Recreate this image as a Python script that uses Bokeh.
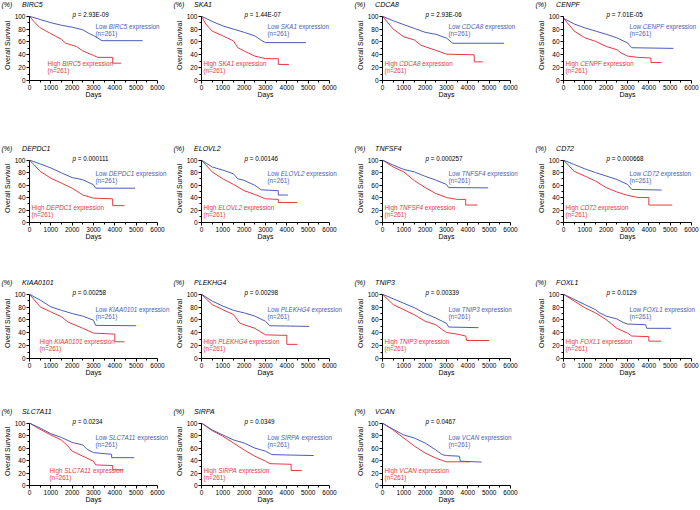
from bokeh.plotting import figure
from bokeh.layouts import column, row
from bokeh.models import Range1d, Label, FixedTicker
from bokeh.embed import file_html
from bokeh.resources import INLINE

# ---------------- data ----------------
GENES = ["BIRC5", "SKA1", "CDCA8", "CENPF",
         "DEPDC1", "ELOVL2", "TNFSF4", "CD72",
         "KIAA0101", "PLEKHG4", "TNIP3", "FOXL1",
         "SLC7A11", "SIRPA", "VCAN"]
P_VALUES = ["2.93E-09", "1.44E-07", "2.93E-06", "7.01E-05",
            "0.000111", "0.00146", "0.000257", "0.000668",
            "0.00258", "0.00298", "0.00339", "0.0129",
            "0.0234", "0.0349", "0.0467"]
N_LOW = [261, 261, 261, 261, 261, 261, 261, 261, 261, 261, 261, 261, 261, 261, 261]
N_HIGH = [261, 261, 261, 261, 261, 261, 261, 261, 261, 261, 261, 261, 261, 261, 261]

DAY_TICKS = [0, 1000, 2000, 3000, 4000, 5000, 6000]
DAY_MINOR = [500, 1500, 2500, 3500, 4500, 5500]
SURV_TICKS = [0, 20, 40, 60, 80, 100]
SURV_MINOR = [10, 30, 50, 70, 90]

BIRC5_LOW_DAYS = [0, 500, 1000, 1500, 2000, 2500, 2800, 3000, 3200, 3400, 5300]
BIRC5_LOW_SURV = [100, 95, 90, 86, 83, 79, 73, 70, 66, 62, 62]
BIRC5_HIGH_DAYS = [0, 200, 500, 1000, 1500, 1700, 2200, 2500, 3000, 3200, 3900, 3900, 4300]
BIRC5_HIGH_SURV = [100, 92, 82, 73, 64, 58, 53, 46, 39, 36, 36, 27, 27]

SKA1_LOW_DAYS = [0, 500, 1000, 1500, 2000, 2500, 2800, 3000, 4900]
SKA1_LOW_SURV = [100, 92, 85, 80, 75, 69.5, 62.6, 59, 59]
SKA1_HIGH_DAYS = [0, 200, 500, 1000, 1500, 1700, 2000, 2500, 3000, 3600, 3600, 4100]
SKA1_HIGH_SURV = [100, 88, 77, 69.5, 61.6, 51, 46, 38, 34, 34, 25, 25]

CDCA8_LOW_DAYS = [0, 500, 1000, 1500, 2000, 2500, 3000, 3300, 5700]
CDCA8_LOW_SURV = [100, 93, 87, 81, 75, 72, 66, 58, 58]
CDCA8_HIGH_DAYS = [0, 500, 1000, 1500, 1800, 2000, 2500, 3000, 4300, 4300, 4700]
CDCA8_HIGH_SURV = [100, 80, 68, 63, 55, 52.6, 47, 41, 40, 29, 29]

CENPF_LOW_DAYS = [0, 500, 1000, 1500, 2000, 2500, 3000, 3200, 5150]
CENPF_LOW_SURV = [97, 88, 82, 77, 72, 66.5, 58.5, 51, 50]
CENPF_HIGH_DAYS = [0, 500, 1000, 1500, 2000, 2500, 2700, 3000, 3500, 4100, 4100, 4600]
CENPF_HIGH_SURV = [97, 77, 66.5, 61, 53, 48, 43, 38, 36, 35, 28, 28]

DEPDC1_LOW_DAYS = [0, 500, 1000, 1500, 2000, 2500, 3000, 3100, 4950]
DEPDC1_LOW_SURV = [100, 94, 87.5, 79.5, 72, 68.6, 60.5, 55, 55]
DEPDC1_HIGH_DAYS = [0, 500, 1000, 1500, 2000, 2500, 3000, 3900, 3900, 4450]
DEPDC1_HIGH_SURV = [100, 82, 71, 63, 55, 44, 39, 38, 27, 27]

ELOVL2_LOW_DAYS = [0, 500, 1000, 1500, 1700, 2000, 2500, 2800, 3600, 3600, 4050]
ELOVL2_LOW_SURV = [100, 89, 84, 78, 70, 67.6, 59.5, 52.4, 51, 44, 44]
ELOVL2_HIGH_DAYS = [0, 500, 1000, 1500, 2000, 2500, 3000, 3600, 3600, 4500]
ELOVL2_HIGH_SURV = [100, 81, 70, 61, 51, 45, 38, 37, 32, 32]

TNFSF4_LOW_DAYS = [0, 500, 1000, 1500, 2000, 2500, 3000, 3100, 4950]
TNFSF4_LOW_SURV = [100, 92, 85, 81, 74, 68, 61, 56, 55.5]
TNFSF4_HIGH_DAYS = [0, 500, 1000, 1500, 2000, 2500, 3000, 3500, 3900, 3900, 4450]
TNFSF4_HIGH_SURV = [100, 89, 81, 67, 56, 46.4, 40, 37, 37, 28, 28]

CD72_LOW_DAYS = [0, 500, 1000, 1500, 2000, 2500, 3000, 3200, 4600]
CD72_LOW_SURV = [100, 93, 86, 80, 74.5, 69, 61, 53, 52]
CD72_HIGH_DAYS = [0, 500, 1000, 1500, 2000, 2500, 3000, 3500, 4000, 4000, 5100]
CD72_HIGH_SURV = [100, 82, 74.5, 66.5, 56, 49, 43.6, 40, 40, 28, 28]

KIAA0101_LOW_DAYS = [0, 500, 1000, 1500, 2000, 2500, 3000, 3100, 5000]
KIAA0101_LOW_SURV = [100, 91, 80.5, 75, 70, 66, 59.5, 51.6, 51]
KIAA0101_HIGH_DAYS = [0, 500, 1000, 1500, 1800, 2000, 2500, 3000, 4000, 4000, 4450]
KIAA0101_HIGH_SURV = [100, 80.5, 72.6, 65, 57, 54, 47, 39.5, 38, 26, 26]

PLEKHG4_LOW_DAYS = [0, 500, 1000, 1500, 2000, 2500, 3000, 3200, 5050]
PLEKHG4_LOW_SURV = [100, 89.5, 81.6, 75, 71, 66, 58, 51, 50]
PLEKHG4_HIGH_DAYS = [0, 500, 1000, 1500, 1800, 2000, 2500, 3000, 4000, 4000, 4500]
PLEKHG4_HIGH_SURV = [100, 84, 76, 68.4, 55, 52.6, 47, 36.8, 36, 22, 22]

TNIP3_LOW_DAYS = [0, 500, 1000, 1500, 2000, 2500, 2800, 3000, 3100, 4500]
TNIP3_LOW_SURV = [100, 93, 86, 79, 70, 63, 58, 55, 49, 48]
TNIP3_HIGH_DAYS = [0, 500, 1000, 1500, 2000, 2500, 2800, 3000, 3500, 3900, 3950, 5000]
TNIP3_HIGH_SURV = [100, 84, 76, 68, 58, 52.6, 45, 40.5, 38, 35, 28, 28]

FOXL1_LOW_DAYS = [0, 500, 1000, 1500, 1700, 2000, 2500, 2800, 3000, 3850, 3900, 5050]
FOXL1_LOW_SURV = [100, 92, 84, 76, 71, 66, 61.6, 56, 53.7, 52.6, 47, 47]
FOXL1_HIGH_DAYS = [0, 500, 1000, 1500, 2000, 2500, 3000, 3200, 4000, 4000, 4580]
FOXL1_HIGH_SURV = [100, 89.5, 79, 71, 60.5, 47, 39.5, 35, 34, 27, 27]

SLC7A11_LOW_DAYS = [0, 500, 1000, 1500, 2000, 2500, 2700, 3000, 3850, 3850, 4900]
SLC7A11_LOW_SURV = [100, 92, 83, 77, 69, 65, 58, 52.7, 50, 44.6, 44.6]
SLC7A11_HIGH_DAYS = [0, 500, 1000, 1500, 1800, 2000, 2500, 3000, 3100, 3900, 3900, 4400]
SLC7A11_HIGH_SURV = [100, 90, 81, 72.6, 63.4, 55, 47, 39, 33, 32, 25, 25]

SIRPA_LOW_DAYS = [0, 500, 1000, 1500, 2000, 2500, 3000, 3300, 5260]
SIRPA_LOW_SURV = [100, 89, 81, 73, 68, 60, 55, 49.5, 48]
SIRPA_HIGH_DAYS = [0, 500, 1000, 1500, 2000, 2500, 3000, 3200, 4200, 4200, 4700]
SIRPA_HIGH_SURV = [100, 88, 79, 68, 57, 47, 39, 35, 34, 24, 24]

VCAN_LOW_DAYS = [0, 500, 1000, 1500, 2000, 2500, 2800, 3000, 3600, 3650, 4650]
VCAN_LOW_SURV = [100, 90, 81, 76, 68, 57, 49.5, 48, 47, 39, 37.5]
VCAN_HIGH_DAYS = [0, 500, 1000, 1500, 2000, 2500, 2800, 3000, 4100]
VCAN_HIGH_SURV = [100, 89, 76, 63, 52, 44, 40, 38, 38]

CURVES = {
    "BIRC5": (BIRC5_LOW_DAYS, BIRC5_LOW_SURV, BIRC5_HIGH_DAYS, BIRC5_HIGH_SURV),
    "SKA1": (SKA1_LOW_DAYS, SKA1_LOW_SURV, SKA1_HIGH_DAYS, SKA1_HIGH_SURV),
    "CDCA8": (CDCA8_LOW_DAYS, CDCA8_LOW_SURV, CDCA8_HIGH_DAYS, CDCA8_HIGH_SURV),
    "CENPF": (CENPF_LOW_DAYS, CENPF_LOW_SURV, CENPF_HIGH_DAYS, CENPF_HIGH_SURV),
    "DEPDC1": (DEPDC1_LOW_DAYS, DEPDC1_LOW_SURV, DEPDC1_HIGH_DAYS, DEPDC1_HIGH_SURV),
    "ELOVL2": (ELOVL2_LOW_DAYS, ELOVL2_LOW_SURV, ELOVL2_HIGH_DAYS, ELOVL2_HIGH_SURV),
    "TNFSF4": (TNFSF4_LOW_DAYS, TNFSF4_LOW_SURV, TNFSF4_HIGH_DAYS, TNFSF4_HIGH_SURV),
    "CD72": (CD72_LOW_DAYS, CD72_LOW_SURV, CD72_HIGH_DAYS, CD72_HIGH_SURV),
    "KIAA0101": (KIAA0101_LOW_DAYS, KIAA0101_LOW_SURV, KIAA0101_HIGH_DAYS, KIAA0101_HIGH_SURV),
    "PLEKHG4": (PLEKHG4_LOW_DAYS, PLEKHG4_LOW_SURV, PLEKHG4_HIGH_DAYS, PLEKHG4_HIGH_SURV),
    "TNIP3": (TNIP3_LOW_DAYS, TNIP3_LOW_SURV, TNIP3_HIGH_DAYS, TNIP3_HIGH_SURV),
    "FOXL1": (FOXL1_LOW_DAYS, FOXL1_LOW_SURV, FOXL1_HIGH_DAYS, FOXL1_HIGH_SURV),
    "SLC7A11": (SLC7A11_LOW_DAYS, SLC7A11_LOW_SURV, SLC7A11_HIGH_DAYS, SLC7A11_HIGH_SURV),
    "SIRPA": (SIRPA_LOW_DAYS, SIRPA_LOW_SURV, SIRPA_HIGH_DAYS, SIRPA_HIGH_SURV),
    "VCAN": (VCAN_LOW_DAYS, VCAN_LOW_SURV, VCAN_HIGH_DAYS, VCAN_HIGH_SURV),
}

# ---------------- style / layout ----------------
FONT = "Liberation Sans"
BLUE = "#4b5cb5"
RED = "#e63a3f"
TXT = 6.3          # annotation font px
X_AXIS_MAX = 6000
Y_AXIS_MAX = 100
Y_END = 109        # room for the p-value line inside the frame
AXIS_PX = 128      # pixel length of the 0-6000 axis

COL_W = [172, 181, 181, 166]
FRAME_W = [142, 146, 146, 133]   # frame is wider than the axis: room for labels
LEFT = 29
ROW_H = [144, 134, 129, 103]
TOP = 10
PX_PER_PCT = [0.64, 0.62, 0.64, 0.62]
LOW_DY = [10, 13, 15, 14]
HIGH_DY = 47
HIGH_DX = {"BIRC5": 18, "KIAA0101": 10, "SLC7A11": 20}

# Arial / Liberation Sans advance widths (1/1000 em)
ADV = {' ': 278, '(': 333, ')': 333, '=': 584, '.': 278, '-': 333, '%': 889,
       'a': 556, 'b': 556, 'c': 500, 'd': 556, 'e': 556, 'f': 278, 'g': 556, 'h': 556,
       'i': 222, 'j': 222, 'k': 500, 'l': 222, 'm': 833, 'n': 556, 'o': 556, 'p': 556,
       'q': 556, 'r': 333, 's': 500, 't': 278, 'u': 556, 'v': 500, 'w': 722, 'x': 500,
       'y': 500, 'z': 500,
       'A': 667, 'B': 667, 'C': 722, 'D': 722, 'E': 667, 'F': 611, 'G': 778, 'H': 722,
       'I': 278, 'J': 500, 'K': 667, 'L': 556, 'M': 833, 'N': 722, 'O': 778, 'P': 667,
       'Q': 778, 'R': 722, 'S': 667, 'T': 611, 'U': 722, 'V': 667, 'W': 944, 'X': 667,
       'Y': 667, 'Z': 611}


def text_w(s, size):
    return sum(ADV.get(c, 556) for c in s) * size / 1000.0


def lbl(t, dx, dy, color, size, italic, x=0, y=Y_AXIS_MAX, align="left"):
    # anchored at a data point (default: 0 days, 100 %), offset in pixels
    return Label(x=x, y=y, x_offset=dx, y_offset=-dy,
                 text=t, text_font=FONT, text_font_size=f"{size}px",
                 text_font_style="italic" if italic else "normal",
                 text_color=color, text_baseline="middle", text_align=align)


def rich(p, parts, dx, dy, color, size):
    x = dx
    for i, (t, it) in enumerate(parts):
        if i > 0:
            x += text_w(" ", size)
        p.add_layout(lbl(t, x, dy, color, size, it))
        x += text_w(t, size)


def make_panel(idx):
    r, c = divmod(idx, 4)
    gene = GENES[idx]
    lo_d, lo_s, hi_d, hi_s = CURVES[gene]
    w = COL_W[c]
    h = ROW_H[r]
    fw = FRAME_W[c]
    fh = round(PX_PER_PCT[r] * Y_END)
    x_end = X_AXIS_MAX * fw / AXIS_PX
    p = figure(width=w, height=h, x_range=Range1d(0, x_end), y_range=Range1d(0, Y_END),
               output_backend="svg", toolbar_location=None,
               min_border_left=LEFT, min_border_right=w - LEFT - fw,
               min_border_top=TOP, min_border_bottom=h - TOP - fh)
    p.outline_line_color = None
    p.grid.visible = False
    p.background_fill_color = "white"
    p.border_fill_color = "white"

    p.xaxis.ticker = FixedTicker(ticks=DAY_TICKS, minor_ticks=DAY_MINOR)
    p.yaxis.ticker = FixedTicker(ticks=SURV_TICKS, minor_ticks=SURV_MINOR)
    p.xaxis.bounds = (0, X_AXIS_MAX)
    p.yaxis.bounds = (0, Y_AXIS_MAX)
    for ax in (p.xaxis[0], p.yaxis[0]):
        ax.axis_line_color = "black"
        ax.major_tick_line_color = "black"
        ax.minor_tick_line_color = "black"
        ax.major_tick_out = 3
        ax.major_tick_in = 0
        ax.minor_tick_out = 2
        ax.minor_tick_in = 0
        ax.major_label_standoff = 1
        ax.axis_label_standoff = 1
        ax.major_label_text_font = FONT
        ax.major_label_text_font_size = "6.5px"
        ax.major_label_text_color = "black"
        ax.axis_label_text_font = FONT
        ax.axis_label_text_font_size = "7px"
        ax.axis_label_text_font_style = "normal"
        ax.axis_label_text_color = "black"
    p.yaxis.axis_label = "Overall Survival"
    # "Days" centred under the 0-6000 axis, drawn in the bottom side panel
    p.add_layout(lbl("Days", 0, 14, "black", 7, False,
                     x=X_AXIS_MAX / 2, y=0, align="center"), "below")

    p.line(hi_d, hi_s, line_color=RED, line_width=1)
    p.line(lo_d, lo_s, line_color=BLUE, line_width=1)

    # title "(%)  GENE" lives in the top side panel (not clipped to the frame)
    title = lbl("(%)\u00a0\u00a0\u00a0\u00a0\u00a0" + gene, -LEFT + 1, -11.5, "black", 7, True)
    p.add_layout(title, "above")
    # p value
    rich(p, [("p", True), ("=", False), (P_VALUES[idx], False)], 43, -1.7, "black", TXT)
    # low / high labels
    ldy = LOW_DY[r]
    rich(p, [("Low", False), (gene, True), ("expression", False)], 66, ldy, BLUE, TXT)
    rich(p, [(f"(n={N_LOW[idx]})", False)], 66, ldy + 7.5, BLUE, TXT)
    hdx = HIGH_DX.get(gene, 2)
    rich(p, [("High", False), (gene, True), ("expression", False)], hdx, HIGH_DY, RED, TXT)
    rich(p, [(f"(n={N_HIGH[idx]})", False)], hdx, HIGH_DY + 7.5, RED, TXT)
    return p


panels = [make_panel(i) for i in range(len(GENES))]
rows = [row(*panels[i:i + 4]) for i in range(0, len(panels), 4)]
layout = column(*rows)

open("out.html", "w").write(file_html(layout, INLINE))
